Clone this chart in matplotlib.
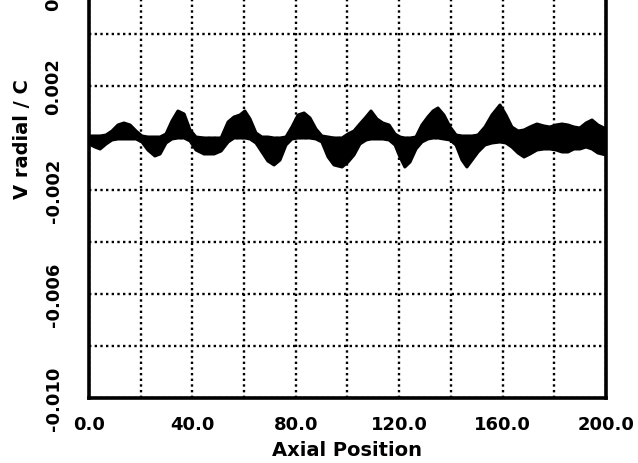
import numpy as np
import matplotlib
matplotlib.use("Agg")
import matplotlib.pyplot as plt

# =====================================================
# DATA
# =====================================================

# axial position of the sample points
axial_pos = [
    0.0, 2.3, 4.3, 6.6, 8.9, 11.2, 13.5, 15.9, 18.2, 20.5,
    22.8, 25.5, 27.5, 29.8, 32.1, 34.4, 36.8, 39.1, 41.4, 44.5,
    48.4, 51.1, 53.8, 56.1, 58.4, 60.3, 62.3, 64.6, 66.9, 69.2,
    71.6, 73.9, 76.2, 78.5, 80.9, 83.2, 85.5, 87.8, 90.1, 92.5,
    94.8, 97.9, 100.2, 102.5, 104.8, 107.2, 109.1, 111.4, 113.7, 116.1,
    118.4, 120.3, 122.2, 124.2, 126.5, 128.8, 131.1, 133.1, 135.0, 137.3,
    139.7, 142.0, 144.3, 146.2, 148.2, 150.5, 153.2, 155.9, 159.0, 161.3,
    163.6, 166.0, 168.3, 170.6, 173.3, 176.0, 178.3, 180.7, 183.0, 185.3,
    187.6, 189.9, 192.3, 194.6, 196.9, 200.0,
]

# upper edge of the bundle of traces (units of 1e-3)
v_upper_milli = [
    0.077, 0.077, 0.077, 0.115, 0.269, 0.500, 0.577, 0.500, 0.269, 0.077,
    0.038, 0.038, 0.038, 0.154, 0.654, 1.038, 0.923, 0.308, 0.038, 0.000,
    0.000, 0.000, 0.615, 0.808, 0.885, 1.038, 0.731, 0.192, 0.038, 0.038,
    0.000, 0.000, 0.038, 0.423, 0.885, 0.962, 0.769, 0.346, 0.077, 0.038,
    0.000, 0.000, 0.154, 0.269, 0.538, 0.808, 1.038, 0.731, 0.577, 0.500,
    0.154, 0.038, 0.000, 0.000, 0.038, 0.500, 0.808, 1.038, 1.154, 0.885,
    0.423, 0.115, 0.077, 0.077, 0.077, 0.115, 0.423, 0.885, 1.269, 0.885,
    0.423, 0.269, 0.308, 0.423, 0.538, 0.462, 0.423, 0.500, 0.538, 0.500,
    0.423, 0.385, 0.577, 0.692, 0.500, 0.346,
]

# lower edge of the bundle of traces (units of 1e-3)
v_lower_milli = [
    -0.231, -0.346, -0.423, -0.231, -0.077, -0.038, -0.038, -0.038, -0.038, -0.154,
    -0.462, -0.692, -0.615, -0.192, -0.038, 0.000, 0.000, -0.115, -0.462, -0.615,
    -0.615, -0.500, -0.154, 0.000, 0.000, 0.000, -0.038, -0.192, -0.538, -0.885,
    -1.038, -0.846, -0.269, -0.038, 0.000, 0.000, 0.000, -0.038, -0.154, -0.731,
    -1.038, -1.115, -0.923, -0.654, -0.231, -0.077, -0.038, -0.038, -0.038, -0.077,
    -0.269, -0.731, -1.115, -0.923, -0.423, -0.154, -0.038, 0.000, 0.000, -0.038,
    -0.077, -0.269, -0.846, -1.115, -0.846, -0.538, -0.269, -0.192, -0.154, -0.192,
    -0.346, -0.577, -0.731, -0.615, -0.462, -0.423, -0.423, -0.462, -0.538, -0.538,
    -0.423, -0.423, -0.346, -0.423, -0.577, -0.654,
]

x_ticks = [0.0, 40.0, 80.0, 120.0, 160.0, 200.0]
y_ticks = [-0.010, -0.006, -0.002, 0.002, 0.006, 0.010]

x = np.array(axial_pos)
v_hi = np.array(v_upper_milli) * 1e-3
v_lo = np.array(v_lower_milli) * 1e-3

# =====================================================
# FIGURE
# =====================================================

fig = plt.figure(figsize=(6.38, 4.64), dpi=100)
fig.patch.set_facecolor("white")

# the scan is cropped at the top, so the axes run past the figure edge
ax = fig.add_axes([0.1395, 0.1401, 0.8103, 1.1207])

ax.fill_between(x, v_lo, v_hi, color="black", lw=0)
ax.plot(x, v_hi, color="black", lw=2.2, solid_joinstyle="round")
ax.plot(x, v_lo, color="black", lw=2.2, solid_joinstyle="round")

ax.set_xlim(0, 200)
ax.set_ylim(-0.010, 0.010)

ax.set_xticks(x_ticks)
ax.set_xticks(np.arange(0, 201, 20), minor=True)
ax.set_yticks(y_ticks)
ax.set_yticks(np.arange(-0.010, 0.0101, 0.002), minor=True)

ax.set_xticklabels([f"{t:.1f}" for t in x_ticks],
                   fontsize=13, fontweight="bold")
ax.set_yticklabels([f"{t:.3f}" for t in y_ticks],
                   fontsize=13, fontweight="bold",
                   rotation=90, va="center")

ax.tick_params(axis="both", which="both", length=0)
ax.tick_params(axis="x", pad=12)
ax.tick_params(axis="y", pad=19)

ax.grid(True, which="both", color="black",
        linestyle=(0, (1, 1.4)), linewidth=1.7)
ax.set_axisbelow(True)

for side in ["left", "right", "bottom", "top"]:
    ax.spines[side].set_linewidth(2.6)
    ax.spines[side].set_color("black")

ax.set_xlabel("Axial Position", fontsize=14, fontweight="bold", labelpad=5)
ax.set_ylabel("V radial / C", fontsize=14, fontweight="bold", labelpad=9)

fig.savefig("out.png", dpi=100, facecolor="white")
